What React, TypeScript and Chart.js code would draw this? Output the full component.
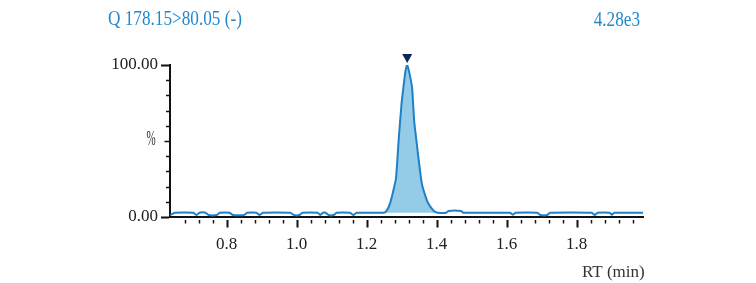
import React, { useEffect, useRef } from "react";
import { Chart, registerables } from "chart.js";

Chart.register(...registerables);

// Retention time (min) and relative intensity (%)
const rtValues = [
  0.638, 0.652, 0.705, 0.714, 0.722, 0.740, 0.748, 0.772, 0.780, 0.808, 0.818, 0.850, 0.858,
  0.885, 0.894, 0.903, 0.982, 0.992, 1.008, 1.016, 1.060, 1.067, 1.075, 1.083, 1.091, 1.106,
  1.114, 1.153, 1.162, 1.171, 1.250, 1.258, 1.267, 1.275, 1.284, 1.292, 1.300, 1.305, 1.311,
  1.316, 1.322, 1.330, 1.336, 1.343, 1.347, 1.357, 1.365, 1.376, 1.390, 1.397, 1.404, 1.428,
  1.434, 1.470, 1.476, 1.610, 1.618, 1.626, 1.688, 1.697, 1.716, 1.724, 1.844, 1.852, 1.860,
  1.894, 1.901, 1.908, 1.990,
];
const intensity = [
  1.3, 2.8, 2.8, 1.3, 2.8, 2.8, 1.3, 1.3, 2.8, 2.8, 1.3, 1.3, 2.8,
  2.8, 1.3, 2.8, 2.8, 1.3, 1.3, 2.8, 2.8, 1.3, 2.8, 2.8, 1.3, 1.3,
  2.8, 2.8, 1.3, 2.8, 2.8, 4.5, 9, 16, 25.5, 52, 75, 85, 96,
  100, 95, 85, 63, 49, 41, 23, 16, 9, 4.5, 3.2, 2.8, 2.8,
  4.0, 4.0, 2.8, 2.8, 1.5, 2.8, 2.8, 1.3, 1.3, 2.8, 2.8, 1.3, 2.8,
  2.8, 1.5, 2.8, 2.8,
];
const peakStartRt = 1.25;
const peakEndRt = 1.404;
const peakBaseline = 2.8;
const markerRt = [1.316];
const markerLevel = [100];
const xLabels = [0.8, 1.0, 1.2, 1.4, 1.6, 1.8];
const yLabels = [0, 100];
const titleText = "Q 178.15>80.05 (-)";
const scaleText = "4.28e3";

const BLUE = "rgb(30,128,200)";
const TEXT_BLUE = "rgb(35,135,205)";
const FONT = "'Liberation Serif', 'DejaVu Serif', serif";

export default function App() {
  const ref = useRef<HTMLCanvasElement | null>(null);

  useEffect(() => {
    document.body.style.margin = "0";
    const canvas = ref.current;
    if (!canvas) return;

    const lineData = rtValues.map((x, i) => ({ x, y: intensity[i] }));
    const peakData = lineData.filter((p) => p.x >= peakStartRt && p.x <= peakEndRt);

    const decor = {
      id: "decor",
      afterDraw(chart: any) {
        const ctx = chart.ctx;
        const xs = chart.scales.x;
        const ys = chart.scales.y;
        const area = chart.chartArea;
        ctx.save();
        ctx.strokeStyle = "#111";
        // x ticks
        for (let k = 17; k <= 49; k++) {
          const v = k * 0.04;
          const px = Math.round(xs.getPixelForValue(v)) + 0.5;
          const major = k % 5 === 0;
          ctx.lineWidth = major ? 2 : 1.5;
          ctx.beginPath();
          ctx.moveTo(px, area.bottom + 3);
          ctx.lineTo(px, area.bottom + (major ? 10.5 : 6.5));
          ctx.stroke();
        }
        // y ticks
        for (let k = 0; k <= 10; k++) {
          const py = Math.round(ys.getPixelForValue(k * 10)) + 0.5;
          const len = k === 0 || k === 10 ? 8 : k === 5 ? 4.5 : 3;
          ctx.lineWidth = k === 0 || k === 10 ? 2 : 1.5;
          ctx.beginPath();
          ctx.moveTo(area.left - 1, py);
          ctx.lineTo(area.left - 1 - len, py);
          ctx.stroke();
        }
        // apex marker (downward triangle above the peak top)
        ctx.fillStyle = "rgb(12,38,88)";
        markerRt.forEach((rt, i) => {
          const mx = xs.getPixelForValue(rt);
          const my = ys.getPixelForValue(markerLevel[i]);
          ctx.beginPath();
          ctx.moveTo(mx - 5, my - 11);
          ctx.lineTo(mx + 5, my - 11);
          ctx.lineTo(mx, my - 2);
          ctx.closePath();
          ctx.fill();
        });
        // texts
        ctx.textBaseline = "middle";
        ctx.fillStyle = TEXT_BLUE;
        ctx.font = "20px " + FONT;
        ctx.save();
        ctx.translate(108, 20);
        ctx.scale(0.86, 1);
        ctx.textAlign = "left";
        ctx.fillText(titleText, 0, 0);
        ctx.restore();
        ctx.save();
        ctx.translate(640, 21);
        ctx.scale(0.86, 1);
        ctx.textAlign = "right";
        ctx.fillText(scaleText, 0, 0);
        ctx.restore();

        ctx.fillStyle = "#333";
        ctx.font = "20px " + FONT;
        ctx.save();
        ctx.translate(151, 140);
        ctx.scale(0.55, 1);
        ctx.textAlign = "center";
        ctx.fillText("%", 0, 0);
        ctx.restore();
        ctx.font = "17px " + FONT;
        ctx.textAlign = "left";
        ctx.fillText("RT (min)", 582, 273);
        ctx.restore();
      },
    };

    const chart = new Chart(canvas, {
      type: "line",
      data: {
        datasets: [
          {
            data: lineData,
            borderColor: BLUE,
            borderWidth: 2,
            pointRadius: 0,
            fill: false,
            tension: 0.15,
            order: 0,
          },
          {
            data: peakData,
            borderWidth: 0,
            borderColor: "rgba(0,0,0,0)",
            backgroundColor: "rgb(148,204,232)",
            pointRadius: 0,
            fill: { value: peakBaseline },
            tension: 0.15,
            order: 1,
          },
        ] as any,
      },
      options: {
        animation: false,
        responsive: false,
        events: [],
        layout: { padding: { top: 65, right: 113, left: 0, bottom: 0 } },
        plugins: { legend: { display: false }, tooltip: { enabled: false }, title: { display: false } },
        scales: {
          x: {
            type: "linear",
            min: 0.638,
            max: 1.99,
            grid: { display: false },
            border: { display: true, color: "#111", width: 2 },
            afterFit: (s: any) => {
              s.height = 66;
            },
            afterBuildTicks: (s: any) => {
              s.ticks = xLabels.map((v) => ({ value: v }));
            },
            ticks: {
              autoSkip: false,
              maxRotation: 0,
              padding: 9,
              color: "#222",
              font: { family: FONT, size: 17 },
              callback: (v: any) => Number(v).toFixed(1),
            },
          },
          y: {
            min: 0,
            max: 100,
            grid: { display: false },
            border: { display: true, color: "#111", width: 2 },
            afterFit: (s: any) => {
              s.width = 170;
            },
            afterBuildTicks: (s: any) => {
              s.ticks = yLabels.map((v) => ({ value: v }));
            },
            ticks: {
              padding: 4,
              color: "#222",
              font: { family: FONT, size: 17 },
              callback: (v: any) => Number(v).toFixed(2),
            },
          },
        },
      },
      plugins: [decor],
    } as any);

    return () => chart.destroy();
  }, []);

  return (
    <div style={{ width: 756, height: 283 }}>
      <canvas ref={ref} width={756} height={283} style={{ display: "block" }} />
    </div>
  );
}
